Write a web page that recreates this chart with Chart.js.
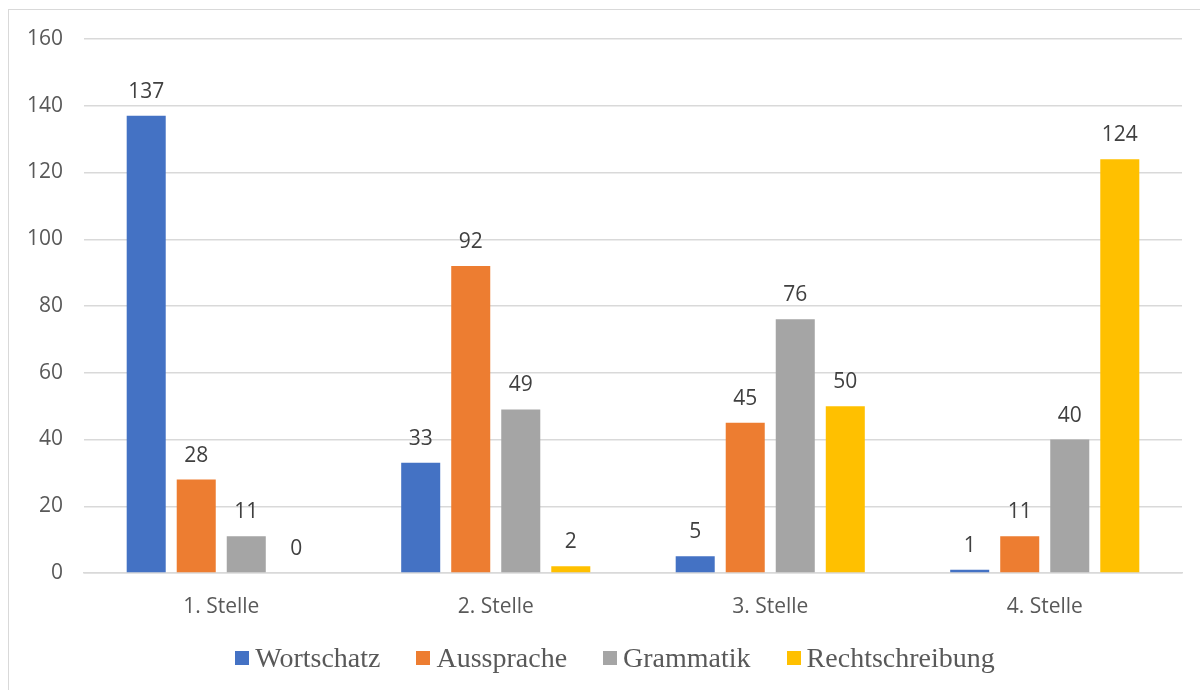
<!DOCTYPE html>
<html>
<head>
<meta charset="utf-8">
<script src="https://cdn.jsdelivr.net/npm/chart.js@4/dist/chart.umd.min.js"></script>
<style>
  html,body{margin:0;padding:0;background:#fff;}
  #wrap{position:relative;width:1200px;height:690px;overflow:hidden;}
  #frame{position:absolute;left:8px;top:9px;width:1220px;height:720px;border:1.5px solid #d9d9d9;box-sizing:border-box;}
  #c{position:absolute;left:0;top:0;}
  #legend{position:absolute;left:0;top:640px;width:1230px;display:flex;justify-content:center;gap:36px;
          font-family:"Liberation Serif",serif;font-size:28px;color:#595959;line-height:36px;}
  .li{display:flex;align-items:center;gap:6px;}
  .sw{width:14px;height:14px;display:inline-block;}
</style>
</head>
<body>
<div id="wrap">
  <div id="frame"></div>
  <canvas id="c" width="1200" height="690"></canvas>
  <div id="legend"></div>
</div>
<script>
/* ─── DATA ─────────────────────────────── */
const CATEGORIES = ['1. Stelle','2. Stelle','3. Stelle','4. Stelle'];
const WORTSCHATZ      = [137, 33, 5, 1];
const AUSSPRACHE      = [28, 92, 45, 11];
const GRAMMATIK       = [11, 49, 76, 40];
const RECHTSCHREIBUNG = [0, 2, 50, 124];
const Y_TICKS = [0,20,40,60,80,100,120,140,160];

const SERIES = [
  ['Wortschatz',      WORTSCHATZ,      '#4472C4'],
  ['Aussprache',      AUSSPRACHE,      '#ED7D31'],
  ['Grammatik',       GRAMMATIK,       '#A5A5A5'],
  ['Rechtschreibung', RECHTSCHREIBUNG, '#FFC000']
];

/* ─── LEGEND ───────────────────────────── */
document.getElementById('legend').innerHTML = SERIES.map(([label,,color])=>
  `<span class="li"><span class="sw" style="background:${color}"></span>${label}</span>`).join('');

/* ─── DATA LABELS ──────────────────────── */
const valueLabels = {
  id:'valueLabels',
  afterDatasetsDraw(chart){
    const ctx = chart.ctx;
    ctx.save();
    ctx.font = '21px "Open Sans", sans-serif';
    ctx.fillStyle = '#404040';
    ctx.textAlign = 'center';
    ctx.textBaseline = 'alphabetic';
    chart.data.datasets.forEach((ds,i)=>{
      chart.getDatasetMeta(i).data.forEach((bar,j)=>{
        ctx.fillText(String(ds.data[j]), bar.x, bar.y - 18);
      });
    });
    ctx.restore();
  }
};

new Chart(document.getElementById('c'),{
  type:'bar',
  data:{
    labels:CATEGORIES,
    datasets:SERIES.map(([label,data,color])=>({
      label, data, backgroundColor:color, borderWidth:0,
      categoryPercentage:0.729, barPercentage:0.78
    }))
  },
  options:{
    responsive:false, animation:false,
    layout:{padding:{left:0,right:18,top:39,bottom:0}},
    plugins:{
      legend:{display:false},
      tooltip:{enabled:false}
    },
    scales:{
      x:{
        grid:{display:false},
        border:{color:'#d9d9d9',width:1.5},
        ticks:{color:'#595959',font:{size:21,family:'"Open Sans", sans-serif'},padding:13},
        afterFit(s){ s.height = 117; }
      },
      y:{
        min:0, max:160,
        afterBuildTicks(s){ s.ticks = Y_TICKS.map(v=>({value:v})); },
        grid:{color:'#d9d9d9',lineWidth:1.5,drawTicks:false},
        border:{display:false},
        ticks:{color:'#595959',font:{size:21,family:'"Open Sans", sans-serif'},padding:21},
        afterFit(s){ s.width = 84; }
      }
    }
  },
  plugins:[valueLabels]
});
</script>
</body>
</html>
